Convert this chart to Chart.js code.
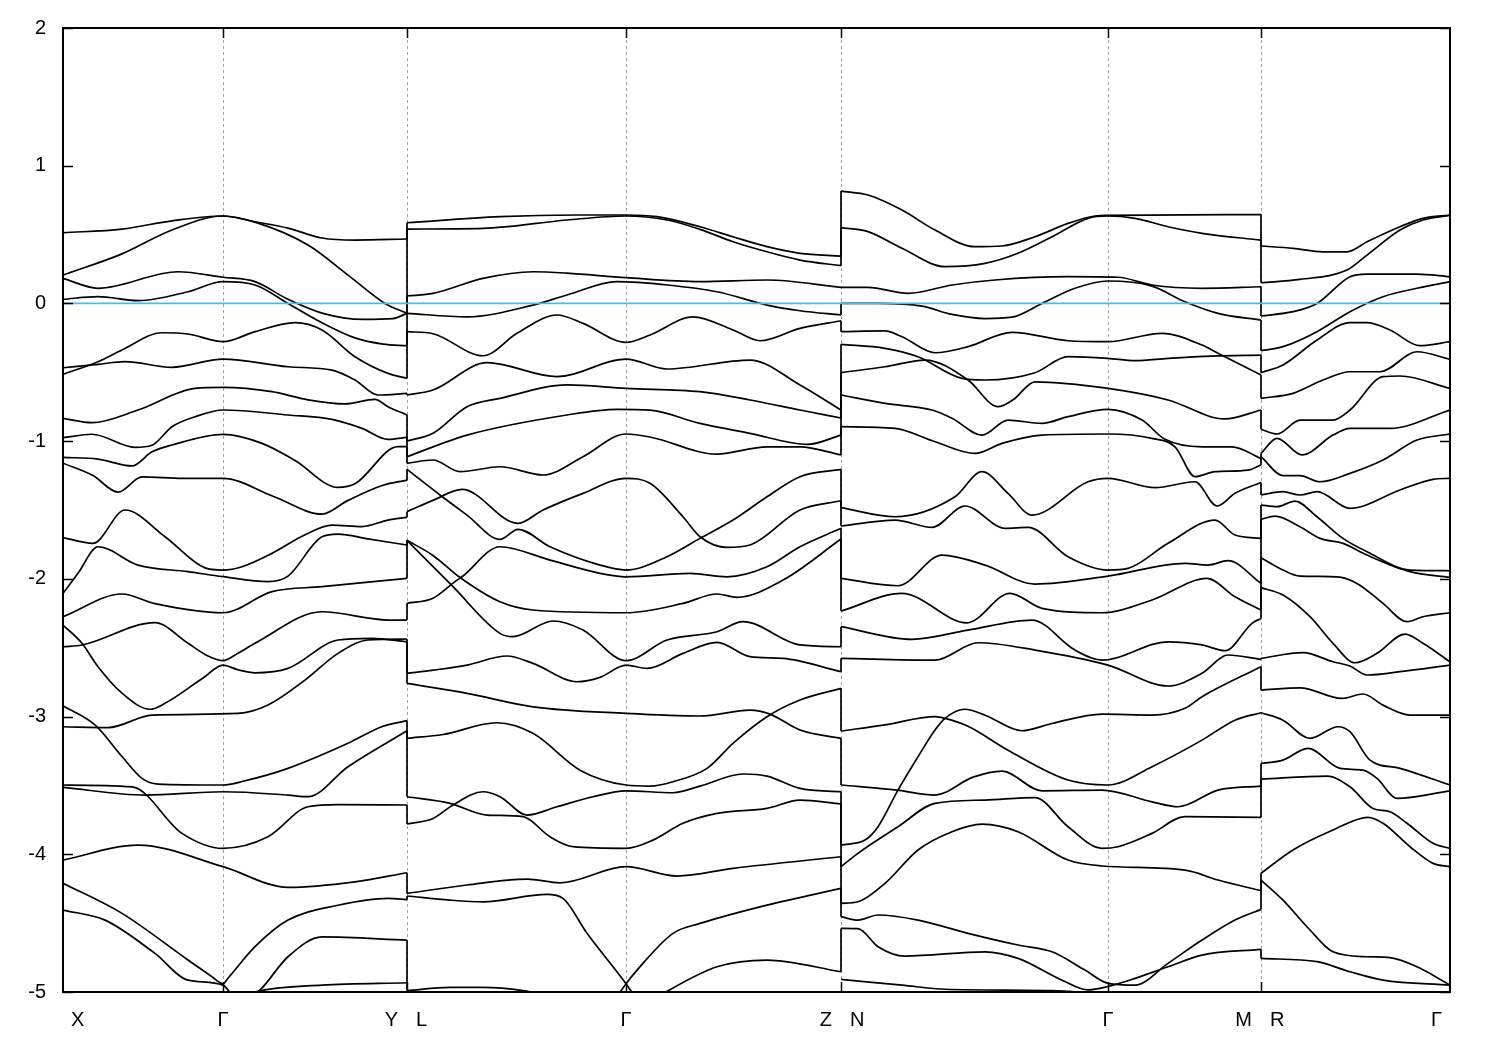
<!DOCTYPE html>
<html>
<head>
<meta charset="utf-8">
<script src="https://cdn.jsdelivr.net/npm/chart.js@4/dist/chart.umd.min.js"></script>
<style>
body { margin: 0; background: #fff; }
canvas { display: block; }
</style>
</head>
<body>
<canvas id="bandChart" width="1500" height="1050"></canvas>
<script>
// k-path: high-symmetry points (path length units) and their labels
var kPoints = [0, 160, 344, 563, 778, 1045, 1198, 1387];
var kLabels = ['X', 'Γ', 'Y|L', 'Γ', 'Z|N', 'Γ', 'M|R', 'Γ'];
var energyMin = -5;
var energyMax = 2;
var fermiLevel = 0;

// bands along each segment, as [k, E] pairs
var bandsXY = [
	[[0,0.513],[59,0.54],[109,0.6],[160,0.635],[192,0.593],[225,0.547],[259,0.475],[292,0.46],[344,0.468]],
	[[0,0.206],[59,0.36],[109,0.533],[160,0.635],[192,0.59],[245,0.424],[285,0.206],[322,0.0],[344,-0.072]],
	[[0,0.182],[35,0.11],[115,0.23],[160,0.19],[192,0.158],[225,0.03],[259,-0.07],[300,-0.116],[330,-0.11],[344,-0.072]],
	[[0,0.03],[35,0.049],[75,0.02],[125,0.085],[160,0.158],[192,0.134],[225,0.0],[259,-0.14],[292,-0.25],[320,-0.295],[344,-0.307]],
	[[0,-0.515],[35,-0.423],[59,-0.338],[99,-0.213],[125,-0.222],[160,-0.278],[192,-0.205],[232,-0.14],[259,-0.193],[292,-0.387],[325,-0.508],[344,-0.544]],
	[[0,-0.467],[35,-0.442],[62,-0.423],[109,-0.464],[160,-0.404],[225,-0.46],[269,-0.484],[292,-0.556],[315,-0.665],[344,-0.653]],
	[[0,-0.835],[29,-0.866],[75,-0.774],[132,-0.617],[160,-0.61],[209,-0.641],[245,-0.70],[282,-0.73],[312,-0.697],[325,-0.75],[344,-0.81]],
	[[0,-0.975],[29,-0.95],[72,-1.045],[89,-1.03],[109,-0.895],[132,-0.823],[160,-0.774],[225,-0.81],[269,-0.842],[299,-0.907],[325,-0.987],[344,-0.972]],
	[[0,-1.118],[35,-1.13],[69,-1.18],[89,-1.077],[109,-1.028],[160,-0.951],[199,-1.016],[232,-1.14],[275,-1.336],[292,-1.31],[335,-1.04],[344,-1.04]],
	[[0,-1.16],[30,-1.25],[55,-1.37],[79,-1.26],[120,-1.27],[160,-1.27],[210,-1.40],[259,-1.53],[285,-1.43],[320,-1.32],[344,-1.283]],
	[[0,-1.70],[30,-1.742],[62,-1.50],[102,-1.694],[142,-1.92],[160,-1.936],[179,-1.912],[209,-1.815],[242,-1.68],[269,-1.61],[299,-1.62],[325,-1.573],[344,-1.553]],
	[[0,-2.105],[15,-1.96],[35,-1.767],[75,-1.90],[125,-1.948],[160,-1.984],[205,-2.02],[225,-1.98],[259,-1.694],[275,-1.675],[305,-1.71],[344,-1.754]],
	[[0,-2.275],[59,-2.11],[92,-2.18],[160,-2.246],[209,-2.093],[259,-2.057],[344,-1.997]],
	[[0,-2.335],[19,-2.468],[35,-2.638],[59,-2.83],[87,-2.947],[102,-2.904],[140,-2.72],[160,-2.626],[175,-2.66],[192,-2.682],[225,-2.65],[275,-2.444],[309,-2.432],[344,-2.457]],
	[[0,-2.493],[19,-2.48],[92,-2.318],[125,-2.468],[145,-2.56],[160,-2.594],[175,-2.54],[192,-2.468],[259,-2.239],[325,-2.299],[344,-2.299]],
	[[0,-3.074],[45,-3.08],[89,-2.99],[175,-2.977],[205,-2.916],[242,-2.735],[275,-2.541],[305,-2.444],[344,-2.437]],
	[[0,-2.921],[32,-3.06],[59,-3.29],[79,-3.449],[95,-3.49],[160,-3.497],[180,-3.47],[225,-3.376],[285,-3.194],[320,-3.07],[344,-3.03]],
	[[0,-3.497],[69,-3.51],[119,-3.848],[160,-3.957],[205,-3.873],[245,-3.655],[275,-3.64],[344,-3.642]],
	[[0,-3.514],[82,-3.57],[160,-3.546],[225,-3.57],[245,-3.582],[285,-3.364],[344,-3.103]],
	[[0,-4.042],[75,-3.933],[160,-4.09],[225,-4.24],[292,-4.2],[344,-4.134]],
	[[0,-4.21],[59,-4.429],[125,-4.768],[150,-4.895],[156,-4.928],[160,-4.94],[165,-4.9],[192,-4.671],[225,-4.478],[275,-4.37],[325,-4.32],[344,-4.33]],
	[[0,-4.405],[42,-4.478],[92,-4.72],[125,-4.914],[160,-4.95],[175,-5.1]],
	[[168,-5.1],[195,-5.0],[225,-4.744],[259,-4.6],[344,-4.623]],
	[[175,-5.05],[192,-5.0],[259,-4.95],[344,-4.933]]
];

var bandsLZ = [
	[[344,0.586],[437,0.63],[514,0.642],[563,0.642],[594,0.63],[637,0.557],[670,0.484],[704,0.412],[737,0.364],[778,0.344]],
	[[344,0.54],[420,0.545],[504,0.606],[563,0.635],[604,0.606],[637,0.538],[670,0.448],[704,0.375],[737,0.315],[778,0.274]],
	[[344,0.054],[370,0.073],[420,0.182],[470,0.23],[504,0.22],[563,0.187],[637,0.158],[704,0.17],[778,0.117]],
	[[344,-0.072],[404,-0.097],[470,-0.012],[504,0.061],[554,0.158],[604,0.134],[654,0.085],[704,-0.012],[737,-0.053],[778,-0.084]],
	[[344,-0.205],[370,-0.22],[420,-0.38],[454,-0.217],[494,-0.084],[520,-0.145],[563,-0.283],[587,-0.229],[630,-0.097],[670,-0.193],[697,-0.271],[737,-0.181],[778,-0.126]],
	[[344,-0.665],[370,-0.629],[424,-0.43],[494,-0.532],[563,-0.404],[604,-0.476],[687,-0.411],[737,-0.592],[778,-0.774]],
	[[344,-0.999],[370,-0.943],[404,-0.75],[437,-0.689],[504,-0.592],[563,-0.617],[637,-0.641],[687,-0.701],[737,-0.774],[778,-0.832]],
	[[344,-1.113],[404,-0.956],[504,-0.81],[554,-0.769],[587,-0.775],[637,-0.871],[687,-0.943],[745,-1.023],[778,-0.956]],
	[[344,-1.161],[370,-1.137],[397,-1.222],[437,-1.186],[480,-1.246],[520,-1.113],[563,-0.948],[587,-0.97],[654,-1.094],[704,-1.041],[737,-1.041],[778,-1.1]],
	[[344,-1.205],[377,-1.391],[404,-1.537],[437,-1.713],[455,-1.64],[487,-1.767],[537,-1.90],[563,-1.936],[604,-1.839],[637,-1.706],[670,-1.573],[704,-1.404],[737,-1.258],[778,-1.205]],
	[[344,-1.512],[370,-1.43],[399,-1.35],[455,-1.597],[480,-1.5],[520,-1.379],[563,-1.27],[587,-1.306],[620,-1.549],[637,-1.694],[664,-1.771],[687,-1.754],[737,-1.5],[778,-1.433]],
	[[344,-2.178],[370,-2.141],[392,-2.02],[399,-1.985],[437,-1.767],[487,-1.864],[537,-1.96],[563,-1.985],[627,-1.96],[664,-1.985],[704,-1.912],[737,-1.767],[778,-1.633]],
	[[344,-1.72],[370,-1.83],[397,-1.99],[437,-2.166],[470,-2.226],[563,-2.246],[620,-2.178],[654,-2.11],[674,-2.134],[720,-2.009],[778,-1.711]],
	[[344,-1.72],[390,-2.057],[437,-2.396],[450,-2.42],[490,-2.306],[520,-2.372],[563,-2.594],[604,-2.444],[654,-2.384],[680,-2.311],[737,-2.48],[778,-2.493]],
	[[344,-2.686],[370,-2.663],[404,-2.626],[444,-2.56],[470,-2.614],[514,-2.747],[537,-2.715],[563,-2.626],[584,-2.65],[620,-2.541],[654,-2.461],[687,-2.565],[720,-2.577],[778,-2.674]],
	[[344,-2.759],[404,-2.831],[470,-2.929],[563,-2.977],[637,-2.996],[687,-2.953],[707,-2.982],[737,-3.098],[778,-3.158]],
	[[344,-3.158],[380,-3.13],[434,-3.045],[470,-3.122],[517,-3.389],[563,-3.497],[587,-3.505],[610,-3.473],[644,-3.376],[670,-3.194],[704,-3.001],[737,-2.88],[778,-2.795]],
	[[344,-3.582],[387,-3.63],[424,-3.715],[460,-3.727],[487,-3.873],[510,-3.945],[563,-3.957],[590,-3.897],[620,-3.775],[654,-3.703],[704,-3.666],[737,-3.606],[778,-3.635]],
	[[344,-3.78],[370,-3.74],[390,-3.642],[420,-3.546],[437,-3.582],[464,-3.715],[494,-3.655],[530,-3.582],[563,-3.539],[610,-3.553],[637,-3.505],[680,-3.417],[704,-3.432],[737,-3.521],[778,-3.546]],
	[[344,-4.284],[404,-4.223],[464,-4.18],[497,-4.207],[563,-4.09],[614,-4.158],[670,-4.102],[778,-4.018]],
	[[344,-4.303],[387,-4.333],[420,-4.345],[484,-4.291],[500,-4.32],[524,-4.574],[563,-4.94],[578,-5.1]],
	[[548,-5.1],[563,-4.94],[573,-4.85],[610,-4.574],[637,-4.502],[704,-4.369],[778,-4.248]],
	[[590,-5.05],[654,-4.817],[704,-4.768],[778,-4.853]],
	[[344,-4.99],[387,-4.967],[420,-4.967],[460,-4.99],[480,-5.02]]
];

var bandsNM = [
	[[778,0.816],[805,0.787],[839,0.678],[872,0.533],[912,0.412],[939,0.417],[972,0.484],[1005,0.581],[1032,0.635],[1045,0.64],[1198,0.645]],
	[[778,0.55],[805,0.521],[839,0.40],[882,0.267],[922,0.291],[955,0.364],[989,0.484],[1025,0.618],[1045,0.635],[1072,0.618],[1105,0.557],[1139,0.509],[1198,0.46]],
	[[778,0.117],[805,0.117],[845,0.073],[889,0.134],[932,0.17],[1005,0.194],[1055,0.19],[1089,0.134],[1139,0.11],[1198,0.121]],
	[[778,0.0],[815,0.0],[859,-0.02],[889,-0.08],[922,-0.11],[949,-0.10],[979,0.0],[1012,0.11],[1045,0.163],[1089,0.126],[1122,0.012],[1155,-0.072],[1198,-0.121]],
	[[778,-0.205],[822,-0.2],[839,-0.242],[872,-0.358],[905,-0.314],[949,-0.21],[1005,-0.271],[1045,-0.278],[1099,-0.217],[1139,-0.302],[1155,-0.362],[1198,-0.52]],
	[[778,-0.297],[822,-0.326],[855,-0.387],[899,-0.544],[922,-0.556],[972,-0.503],[1005,-0.387],[1045,-0.399],[1072,-0.416],[1105,-0.399],[1149,-0.382],[1198,-0.375]],
	[[778,-0.503],[822,-0.46],[862,-0.411],[905,-0.556],[935,-0.75],[950,-0.70],[972,-0.569],[1045,-0.617],[1105,-0.701],[1162,-0.839],[1198,-0.774]],
	[[778,-0.665],[822,-0.726],[869,-0.774],[889,-0.834],[919,-0.956],[945,-0.847],[979,-0.871],[1005,-0.822],[1045,-0.769],[1079,-0.847],[1102,-0.987],[1139,-1.041],[1169,-1.041],[1198,-1.125]],
	[[778,-0.895],[832,-0.907],[872,-1.004],[912,-1.089],[939,-1.016],[979,-0.956],[1045,-0.948],[1089,-0.98],[1112,-1.041],[1132,-1.258],[1152,-1.222],[1185,-1.21],[1198,-1.173]],
	[[778,-1.483],[832,-1.549],[892,-1.404],[919,-1.222],[945,-1.379],[969,-1.537],[1025,-1.295],[1045,-1.27],[1092,-1.338],[1132,-1.295],[1154,-1.471],[1172,-1.379],[1198,-1.30]],
	[[778,-1.616],[832,-1.573],[869,-1.626],[902,-1.471],[942,-1.633],[965,-1.626],[1005,-1.839],[1045,-1.936],[1065,-1.924],[1105,-1.742],[1152,-1.573],[1172,-1.682],[1198,-1.706]],
	[[778,-1.997],[835,-2.05],[879,-1.827],[922,-1.90],[972,-2.038],[1045,-1.98],[1122,-1.887],[1145,-1.90],[1165,-1.868],[1198,-2.033]],
	[[778,-2.234],[839,-2.105],[904,-2.319],[947,-2.105],[979,-2.214],[1039,-2.246],[1089,-2.154],[1144,-1.997],[1172,-2.13],[1198,-2.227]],
	[[778,-2.347],[849,-2.439],[905,-2.372],[969,-2.299],[1012,-2.517],[1039,-2.59],[1105,-2.457],[1139,-2.48],[1162,-2.522],[1189,-2.323],[1198,-2.287]],
	[[778,-2.577],[872,-2.59],[915,-2.464],[972,-2.517],[1045,-2.626],[1105,-2.778],[1139,-2.686],[1165,-2.553],[1198,-2.584]],
	[[778,-3.105],[822,-3.06],[872,-3.001],[882,-3.013],[905,-3.07],[945,-3.244],[1005,-3.461],[1045,-3.497],[1089,-3.364],[1139,-3.171],[1172,-3.026],[1198,-2.972]],
	[[778,-3.933],[802,-3.897],[815,-3.8],[835,-3.534],[855,-3.292],[872,-3.098],[882,-3.013],[902,-2.947],[922,-2.99],[959,-3.103],[989,-3.05],[1039,-2.982],[1089,-2.989],[1122,-2.94],[1139,-2.856],[1198,-2.638]],
	[[778,-3.497],[834,-3.534],[872,-3.57],[910,-3.44],[939,-3.396],[979,-3.539],[1039,-3.534],[1089,-3.619],[1115,-3.655],[1155,-3.534],[1198,-3.505]],
	[[778,-4.09],[795,-3.993],[835,-3.8],[872,-3.63],[922,-3.606],[972,-3.589],[1005,-3.8],[1039,-3.957],[1055,-3.945],[1089,-3.848],[1122,-3.727],[1198,-3.732]],
	[[778,-4.356],[795,-4.345],[822,-4.211],[855,-3.969],[889,-3.836],[919,-3.781],[955,-3.836],[1005,-4.042],[1039,-4.085],[1122,-4.115],[1155,-4.187],[1198,-4.265]],
	[[778,-4.453],[795,-4.478],[815,-4.441],[855,-4.478],[905,-4.574],[955,-4.659],[989,-4.708],[1022,-4.841],[1045,-4.937],[1072,-4.95],[1105,-4.792],[1139,-4.623],[1172,-4.478],[1198,-4.40]],
	[[778,-4.538],[795,-4.54],[815,-4.671],[842,-4.739],[922,-4.708],[955,-4.756],[999,-4.914],[1025,-4.985],[1045,-4.96],[1072,-4.901],[1105,-4.817],[1139,-4.732],[1198,-4.69]],
	[[778,-4.909],[839,-4.95],[882,-4.98],[989,-4.99],[1032,-5.01]]
];

var bandsRG = [
	[[1198,0.417],[1230,0.40],[1260,0.375],[1284,0.375],[1304,0.448],[1337,0.557],[1360,0.618],[1387,0.642]],
	[[1198,0.15],[1237,0.175],[1284,0.242],[1304,0.351],[1337,0.533],[1360,0.606],[1387,0.64]],
	[[1198,-0.091],[1230,-0.06],[1254,0.0],[1287,0.194],[1304,0.213],[1354,0.213],[1387,0.194]],
	[[1198,-0.343],[1220,-0.314],[1254,-0.205],[1287,-0.06],[1320,0.049],[1354,0.11],[1387,0.158]],
	[[1198,-0.503],[1220,-0.447],[1254,-0.266],[1287,-0.14],[1304,-0.14],[1327,-0.193],[1357,-0.307],[1387,-0.278]],
	[[1198,-0.689],[1230,-0.653],[1260,-0.556],[1287,-0.496],[1317,-0.496],[1354,-0.351],[1387,-0.406]],
	[[1198,-0.914],[1214,-0.948],[1237,-0.847],[1270,-0.847],[1287,-0.774],[1320,-0.532],[1337,-0.527],[1387,-0.617]],
	[[1198,-1.089],[1214,-0.98],[1239,-1.1],[1270,-0.956],[1287,-0.907],[1327,-0.907],[1387,-0.774]],
	[[1198,-1.113],[1220,-1.25],[1237,-1.25],[1257,-1.295],[1287,-1.234],[1320,-1.137],[1354,-0.992],[1387,-0.948]],
	[[1198,-1.391],[1220,-1.367],[1237,-1.391],[1254,-1.367],[1287,-1.488],[1337,-1.355],[1370,-1.277],[1387,-1.27]],
	[[1198,-1.464],[1214,-1.476],[1232,-1.435],[1254,-1.549],[1280,-1.706],[1304,-1.803],[1347,-1.936],[1387,-1.941]],
	[[1198,-1.568],[1212,-1.544],[1237,-1.621],[1257,-1.706],[1280,-1.742],[1304,-1.827],[1347,-1.948],[1387,-1.99]],
	[[1198,-1.847],[1220,-1.936],[1237,-1.98],[1274,-1.985],[1294,-2.033],[1320,-2.178],[1344,-2.311],[1360,-2.275],[1387,-2.246]],
	[[1198,-2.064],[1220,-2.118],[1247,-2.275],[1270,-2.468],[1292,-2.609],[1314,-2.541],[1342,-2.401],[1360,-2.468],[1387,-2.602]],
	[[1198,-2.577],[1240,-2.536],[1270,-2.602],[1287,-2.633],[1304,-2.698],[1337,-2.674],[1387,-2.626]],
	[[1198,-2.808],[1237,-2.791],[1279,-2.868],[1300,-2.836],[1320,-2.917],[1347,-2.989],[1387,-2.989]],
	[[1198,-2.972],[1220,-3.026],[1247,-3.158],[1275,-3.074],[1287,-3.11],[1307,-3.316],[1337,-3.376],[1387,-3.497]],
	[[1198,-3.34],[1220,-3.316],[1245,-3.231],[1277,-3.376],[1300,-3.389],[1314,-3.449],[1334,-3.594],[1387,-3.539]],
	[[1198,-3.454],[1264,-3.432],[1287,-3.51],[1310,-3.667],[1327,-3.691],[1344,-3.775],[1370,-3.92],[1387,-3.957]],
	[[1198,-4.138],[1230,-3.969],[1270,-3.824],[1305,-3.732],[1320,-3.775],[1347,-3.945],[1370,-4.066],[1387,-4.09]],
	[[1198,-4.187],[1220,-4.333],[1247,-4.55],[1270,-4.708],[1304,-4.744],[1327,-4.751],[1354,-4.817],[1387,-4.95]],
	[[1198,-4.756],[1254,-4.78],[1287,-4.853],[1320,-4.914],[1387,-4.95]]
];

var segments = [bandsXY, bandsLZ, bandsNM, bandsRG];

function bandLine(points) {
	return {
		data: points.map(function (p) { return { x: p[0], y: p[1] }; }),
		borderColor: '#000000',
		borderWidth: 1.7,
		cubicInterpolationMode: 'monotone',
		clip: 0
	};
}

var datasets = [];
// Fermi level first so it is drawn on top
datasets.push({
	data: [{ x: kPoints[0], y: fermiLevel }, { x: kPoints[kPoints.length - 1], y: fermiLevel }],
	borderColor: '#56b4e9',
	borderWidth: 1.8,
	clip: 0
});
segments.forEach(function (seg) {
	seg.forEach(function (band) { datasets.push(bandLine(band)); });
});

// vertical jumps at the path breaks: n-th band from the top meets n-th band from the top
[2, 4, 6].forEach(function (ki, s) {
	var k = kPoints[ki];
	var ends = segments[s].filter(function (b) { return b[b.length - 1][0] === k; })
		.map(function (b) { return b[b.length - 1][1]; }).sort(function (a, b) { return b - a; });
	var starts = segments[s + 1].filter(function (b) { return b[0][0] === k; })
		.map(function (b) { return b[0][1]; }).sort(function (a, b) { return b - a; });
	var n = Math.min(ends.length, starts.length);
	for (var i = 0; i < n; i++) {
		datasets.push(bandLine([[k, ends[i]], [k, starts[i]]]));
	}
});

var bandFrame = {
	id: 'bandFrame',
	beforeDatasetsDraw: function (chart) {
		var ctx = chart.ctx, a = chart.chartArea, x = chart.scales.x;
		ctx.save();
		ctx.strokeStyle = '#a0a0a0';
		ctx.lineWidth = 1;
		ctx.setLineDash([3, 3]);
		kPoints.slice(1, -1).forEach(function (k) {
			var px = Math.round(x.getPixelForValue(k)) + 0.5;
			ctx.beginPath();
			ctx.moveTo(px, a.top);
			ctx.lineTo(px, a.bottom);
			ctx.stroke();
		});
		ctx.restore();
	},
	afterDatasetsDraw: function (chart) {
		var ctx = chart.ctx, a = chart.chartArea, x = chart.scales.x, y = chart.scales.y;
		ctx.save();
		ctx.strokeStyle = '#000';
		ctx.lineWidth = 1.5;
		// inward tick marks
		for (var e = energyMin; e <= energyMax; e++) {
			var py = Math.round(y.getPixelForValue(e)) + 0.5;
			ctx.beginPath();
			ctx.moveTo(a.left, py); ctx.lineTo(a.left + 10, py);
			ctx.moveTo(a.right, py); ctx.lineTo(a.right - 10, py);
			ctx.stroke();
		}
		kPoints.slice(1, -1).forEach(function (k) {
			var px = Math.round(x.getPixelForValue(k)) + 0.5;
			ctx.beginPath();
			ctx.moveTo(px, a.bottom); ctx.lineTo(px, a.bottom - 10);
			ctx.moveTo(px, a.top); ctx.lineTo(px, a.top + 10);
			ctx.stroke();
		});
		// frame
		ctx.lineWidth = 2;
		ctx.strokeRect(a.left, a.top, a.right - a.left, a.bottom - a.top);
		// k-point labels
		ctx.fillStyle = '#000';
		ctx.font = '20px "Liberation Sans", Arial, sans-serif';
		ctx.textBaseline = 'middle';
		var ly = a.bottom + 28;
		kPoints.forEach(function (k, i) {
			var px = x.getPixelForValue(k);
			var parts = kLabels[i].split('|');
			if (parts.length === 2) {
				ctx.textAlign = 'right'; ctx.fillText(parts[0], px - 9, ly);
				ctx.textAlign = 'left'; ctx.fillText(parts[1], px + 9, ly);
			} else if (i === 0) {
				ctx.textAlign = 'left'; ctx.fillText(parts[0], px + 8, ly);
			} else if (i === kPoints.length - 1) {
				ctx.textAlign = 'right'; ctx.fillText(parts[0], px - 8, ly);
			} else {
				ctx.textAlign = 'center'; ctx.fillText(parts[0], px, ly);
			}
		});
		ctx.restore();
	}
};

var bandChart = new Chart(document.getElementById('bandChart'), {
	type: 'line',
	data: { datasets: datasets },
	options: {
		responsive: false,
		animation: false,
		devicePixelRatio: 1,
		layout: { padding: { top: 28, right: 50, left: 0, bottom: 0 } },
		elements: { point: { radius: 0 } },
		plugins: { legend: { display: false }, tooltip: { enabled: false } },
		scales: {
			x: {
				type: 'linear',
				min: kPoints[0],
				max: kPoints[kPoints.length - 1],
				grid: { display: false },
				border: { display: false },
				ticks: { display: false },
				afterFit: function (scale) { scale.height = 58; }
			},
			y: {
				min: energyMin,
				max: energyMax,
				grid: { display: false },
				border: { display: false },
				ticks: {
					stepSize: 1,
					padding: 9,
					color: '#000',
					font: { family: '"Liberation Sans", Arial, sans-serif', size: 20 }
				},
				afterFit: function (scale) { scale.width = 63; }
			}
		}
	},
	plugins: [bandFrame]
});
window.bandChart = bandChart;
</script>
</body>
</html>
